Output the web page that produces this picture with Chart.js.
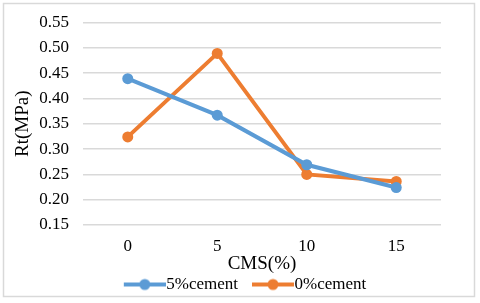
<!DOCTYPE html>
<html>
<head>
<meta charset="utf-8">
<script src="https://cdn.jsdelivr.net/npm/chart.js@4/dist/chart.umd.min.js"></script>
<style>
html,body{margin:0;padding:0;background:#fff;}
#wrap{position:relative;width:480px;height:303px;}
</style>
</head>
<body>
<div id="wrap"><canvas id="c" width="480" height="303"></canvas></div>
<script>
const categories = ['0', '5', '10', '15'];
const seriesNames = ['5%cement', '0%cement'];
const cement5 = [0.439, 0.367, 0.269, 0.224];
const cement0 = [0.324, 0.489, 0.250, 0.236];
const yTicks = [0.15, 0.20, 0.25, 0.30, 0.35, 0.40, 0.45, 0.50, 0.55];

const BLUE = '#5B9BD5';
const ORANGE = '#ED7D31';
const FONT = "'Liberation Serif', 'Times New Roman', serif";

// legend icon: line 42px long + circle; asymmetric canvas so the text sits right after the line
function legendIcon(color) {
  const c = document.createElement('canvas');
  c.width = 50; c.height = 14;
  const g = c.getContext('2d');
  g.strokeStyle = color; g.lineWidth = 4; g.lineCap = 'butt';
  g.beginPath(); g.moveTo(8, 7); g.lineTo(50, 7); g.stroke();
  g.fillStyle = color;
  g.beginPath(); g.arc(29, 7, 5.5, 0, Math.PI * 2); g.fill();
  return c;
}

const borderPlugin = {
  id: 'outerBorder',
  beforeDraw(chart) {
    const ctx = chart.ctx;
    ctx.save();
    ctx.fillStyle = '#fff';
    ctx.fillRect(0, 0, chart.width, chart.height);
    ctx.strokeStyle = '#d9d9d9';
    ctx.lineWidth = 1.5;
    ctx.strokeRect(3.5, 3.5, 471, 293);
    ctx.restore();
  }
};

new Chart(document.getElementById('c'), {
  type: 'line',
  data: {
    labels: categories,
    datasets: [
      { label: seriesNames[0], data: cement5, borderColor: BLUE, backgroundColor: BLUE,
        borderWidth: 4, pointRadius: 5.5, pointHoverRadius: 5.5, pointBorderWidth: 0, tension: 0 },
      { label: seriesNames[1], data: cement0, borderColor: ORANGE, backgroundColor: ORANGE,
        borderWidth: 4, pointRadius: 5.5, pointHoverRadius: 5.5, pointBorderWidth: 0, tension: 0 }
    ]
  },
  options: {
    responsive: false,
    animation: false,
    layout: { padding: { top: 20, right: 0, left: 10, bottom: 0 } },
    plugins: {
      tooltip: { enabled: false },
      legend: {
        position: 'bottom',
        labels: {
          usePointStyle: true,
          pointStyleWidth: 34,
          boxHeight: 14,
          padding: 14,
          color: '#000',
          font: { family: FONT, size: 17 },
          generateLabels(chart) {
            return chart.data.datasets.map((ds, i) => ({
              text: ds.label,
              pointStyle: legendIcon(ds.borderColor),
              fillStyle: ds.borderColor,
              strokeStyle: ds.borderColor,
              lineWidth: 0,
              hidden: false,
              datasetIndex: i,
              fontColor: '#000'
            }));
          }
        }
      }
    },
    scales: {
      x: {
        offset: true,
        afterFit(scale) { scale.height = 37; },
        grid: { display: false, drawTicks: false },
        border: { display: false },
        ticks: { color: '#000', font: { family: FONT, size: 17 }, padding: 11 },
        title: { display: true, text: 'CMS(%)', color: '#000', font: { family: FONT, size: 19 }, padding: { top: 0, bottom: -13 } }
      },
      y: {
        min: 0.15, max: 0.55,
        afterBuildTicks(scale) { scale.ticks = yTicks.map(v => ({ value: v })); },
        afterFit(scale) { scale.width = 73; },
        grid: { color: '#d9d9d9', lineWidth: 1.5, drawTicks: false },
        border: { display: false },
        ticks: { color: '#000', font: { family: FONT, size: 17, lineHeight: 1.0 }, padding: 14,
          callback: v => Number(v).toFixed(2) },
        title: { display: true, text: 'Rt(MPa)', color: '#000', font: { family: FONT, size: 19 }, padding: { top: 2, bottom: 0 } }
      },
      spacer: {
        type: 'linear',
        position: 'right',
        afterFit(scale) { scale.width = 39; },
        grid: { display: false, drawTicks: false },
        border: { display: false },
        ticks: { display: false }
      }
    }
  },
  plugins: [borderPlugin]
});
</script>
</body>
</html>
